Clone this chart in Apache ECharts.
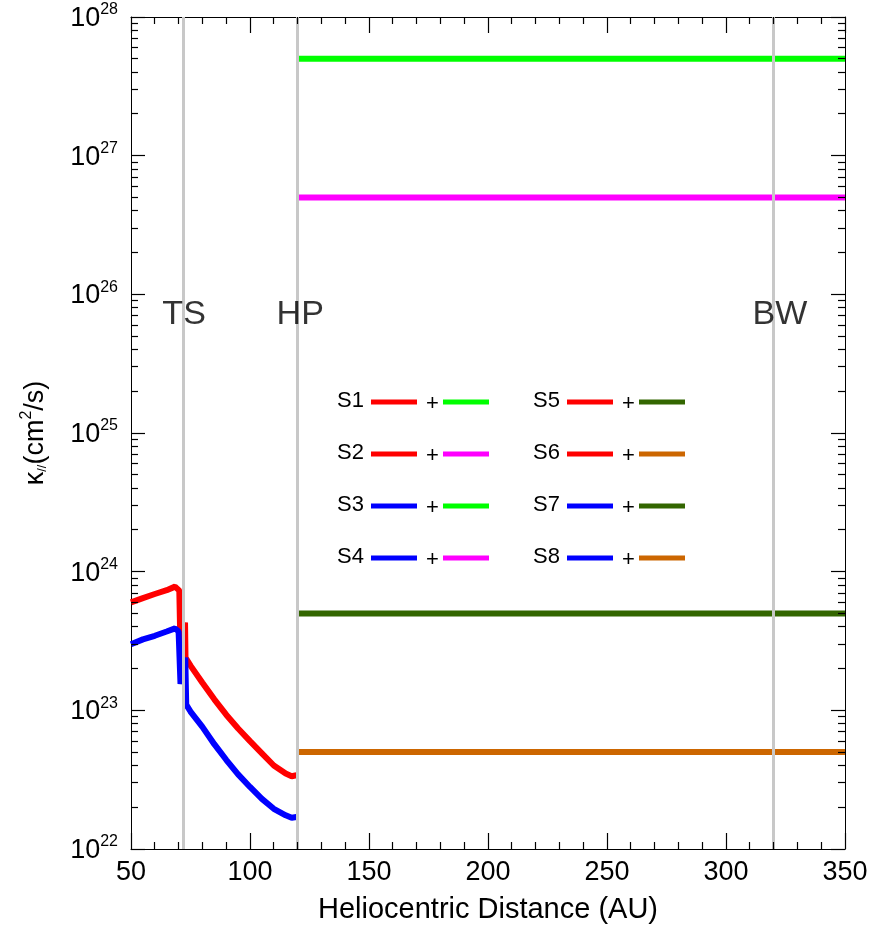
<!DOCTYPE html>
<html><head><meta charset="utf-8">
<script src="https://cdn.jsdelivr.net/npm/echarts@6/dist/echarts.min.js"></script>
<style>html,body{margin:0;padding:0;background:#fff}#c{width:884px;height:926px}</style>
</head><body><div id="c"></div>
<script>
// ---- data ----
const redCurve = [[50,6.0e23],[55,6.45e23],[60,6.9e23],[65,7.35e23],[68.5,7.8e23],[70.3,7.3e23],[70.8,2.7e23],[72.7,4.3e23],[72.9,2.4e23],[75,2.1e23],[80,1.58e23],[85,1.2e23],[90,9.3e22],[95,7.4e22],[100,6.0e22],[105,4.9e22],[110,4.0e22],[115,3.5e22],[117.5,3.35e22],[119.5,3.4e22]];
const blueCurve = [[50,3.0e23],[55,3.25e23],[60,3.45e23],[65,3.7e23],[68.5,3.9e23],[70,3.7e23],[70.8,1.55e23],[72.8,2.4e23],[73.2,1.1e23],[75,9.8e22],[80,7.6e22],[85,5.7e22],[90,4.4e22],[95,3.45e22],[100,2.8e22],[105,2.3e22],[110,1.95e22],[115,1.75e22],[117.5,1.68e22],[119.5,1.7e22]];
const outerStart = 120, outerEnd = 350;
const outerLevels = {green:5e27, magenta:5e26, darkgreen:5e23, orange:5e22};
const boundaries = [72, 120, 320];
const boundaryNames = ['TS','HP','BW'];
const boundaryLabelY = 7e25;
const xMajorTicks = [50,100,150,200,250,300,350];
const yDecades = [1e22,1e23,1e24,1e25,1e26,1e27,1e28];
const legendLabels = ['S1','S2','S3','S4','S5','S6','S7','S8'];
const legendInner = ['red','red','blue','blue','red','red','blue','blue'];
const legendOuter = ['green','magenta','green','magenta','darkgreen','orange','darkgreen','orange'];

const COLORS = {red:'#ff0000', blue:'#0000ff', green:'#00ff00', magenta:'#ff00ff', darkgreen:'#336600', orange:'#cc6600'};
const FONT = '"Liberation Sans", Arial, Helvetica, sans-serif';
const X_MIN = 50, X_MAX = 350, Y_MIN = 1e22, Y_MAX = 1e28;

const xMinorTicks = [];
for (let v = X_MIN + 10; v < X_MAX; v += 10) if (v % 50 !== 0) xMinorTicks.push(v);
const yMinorTicks = [];
for (let e = 22; e < 28; e++) for (let m = 2; m <= 9; m++) yMinorTicks.push(m * Math.pow(10, e));

const chart = echarts.init(document.getElementById('c'), null, {renderer:'canvas'});

function xAx(pos, showLabel) {
  return {
    type:'value', position:pos, min:X_MIN, max:X_MAX, interval:50,
    axisLine:{show:true, onZero:false, lineStyle:{color:'#000', width:1}},
    axisTick:{show:false}, minorTick:{show:false},
    splitLine:{show:false}, minorSplitLine:{show:false},
    axisLabel:{show:showLabel, color:'#000', fontFamily:FONT, fontSize:27, margin:10},
    name: showLabel ? 'Heliocentric Distance (AU)' : '',
    nameLocation:'middle', nameGap:46,
    nameTextStyle:{color:'#000', fontFamily:FONT, fontSize:29}
  };
}
function yAx(pos, showLabel) {
  const o = {
    type:'log', logBase:10, position:pos, min:Y_MIN, max:Y_MAX,
    axisLine:{show:true, onZero:false, lineStyle:{color:'#000', width:1}},
    axisTick:{show:false}, minorTick:{show:false},
    splitLine:{show:false},
    axisLabel:{show:showLabel, customValues: yDecades, margin:13,
      formatter: v => '{b|10}{s|' + Math.round(Math.log10(v)) + '}',
      rich:{
        b:{fontFamily:FONT, fontSize:27, color:'#000', lineHeight:30, verticalAlign:'bottom'},
        s:{fontFamily:FONT, fontSize:16, color:'#000', lineHeight:16, verticalAlign:'top'}
      }}
  };
  if (showLabel) {
    o.name = '{a|κ}{sub|//}{a|(cm}{sup|2}{a|/s)}';
    o.nameLocation = 'middle';
    o.nameGap = 82;
    o.nameRotate = 90;
    o.nameTextStyle = {rich:{
      a:{fontFamily:FONT, fontSize:27, color:'#000', lineHeight:30, verticalAlign:'bottom'},
      sub:{fontFamily:FONT, fontSize:13, color:'#000', lineHeight:30, verticalAlign:'bottom'},
      sup:{fontFamily:FONT, fontSize:16, color:'#000', lineHeight:16, verticalAlign:'top'}
    }};
  }
  return o;
}

const series = [];
const lineSeries = (data, color) => ({
  type:'line', data, showSymbol:false, symbol:'none', animation:false, z:2,
  lineStyle:{color, width:6}, itemStyle:{color}
});
for (const k of ['green','magenta','darkgreen','orange']) {
  series.push(lineSeries([[outerStart, outerLevels[k]], [outerEnd, outerLevels[k]]], COLORS[k]));
}
series.push(lineSeries(redCurve, COLORS.red));
series.push(lineSeries(blueCurve, COLORS.blue));
series.push({
  type:'scatter', symbolSize:0, animation:false, z:6,
  data: boundaries.map((b,i) => ({name:boundaryNames[i], value:[b, boundaryLabelY]})),
  label:{show:true, position:'inside', align:'left', formatter:'{b}', color:'#000', textBorderWidth:0,
    fontFamily:FONT, fontSize:34, offset:[-21,-1]},
  markLine:{silent:true, symbol:['none','none'], animation:false, z:5,
    label:{show:false},
    lineStyle:{color:'#c8c8c8', width:3, type:'solid'},
    data: boundaries.map(b => ({xAxis:b}))}
});

chart.setOption({
  animation:false,
  backgroundColor:'#fff',
  grid:{left:131, right:39, top:17, bottom:77, containLabel:false, outerBoundsMode:'none'},
  xAxis:[xAx('bottom', true), xAx('top', false)],
  yAxis:[yAx('left', true), yAx('right', false)],
  series
});

// legend
const graphics = [];
const legX0 = [337, 533], legY0 = 402, legDY = 52;
legendLabels.forEach((lab, i) => {
  const col = Math.floor(i/4), row = i % 4;
  const x = legX0[col], y = legY0 + row*legDY;
  graphics.push({type:'text', left:x, top:y-12, style:{text:lab, font:'22px ' + FONT, fill:'#000'}, z:10});
  graphics.push({type:'line', shape:{x1:x+34, y1:y, x2:x+80, y2:y}, style:{stroke:COLORS[legendInner[i]], lineWidth:5}, z:10});
  graphics.push({type:'text', left:x+89, top:y-9, style:{text:'+', font:'22px ' + FONT, fill:'#000'}, z:10});
  graphics.push({type:'line', shape:{x1:x+106, y1:y, x2:x+152, y2:y}, style:{stroke:COLORS[legendOuter[i]], lineWidth:5}, z:10});
});

// inward ticks on all four sides, positioned through the chart's own axis scales
const crisp = v => Math.round(v - 0.5) + 0.5;
const px = p => chart.convertToPixel({gridIndex:0}, p);
const tick = (x1, y1, x2, y2) => ({type:'line', silent:true, z:20,
  shape:{x1, y1, x2, y2}, style:{stroke:'#000', lineWidth:1.2}});
function addXTicks(values, len) {
  values.forEach(v => {
    const pb = px([v, Y_MIN]), pt = px([v, Y_MAX]);
    const x = crisp(pb[0]);
    graphics.push(tick(x, pb[1], x, pb[1] - len));
    graphics.push(tick(x, pt[1], x, pt[1] + len));
  });
}
function addYTicks(values, len) {
  values.forEach(v => {
    const pl = px([X_MIN, v]), pr = px([X_MAX, v]);
    const y = crisp(pl[1]);
    graphics.push(tick(pl[0], y, pl[0] + len, y));
    graphics.push(tick(pr[0], y, pr[0] - len, y));
  });
}
addXTicks(xMajorTicks, 16);
addXTicks(xMinorTicks, 7);
addYTicks(yDecades, 14);
addYTicks(yMinorTicks, 7);

chart.setOption({graphic: graphics});
</script></body></html>
